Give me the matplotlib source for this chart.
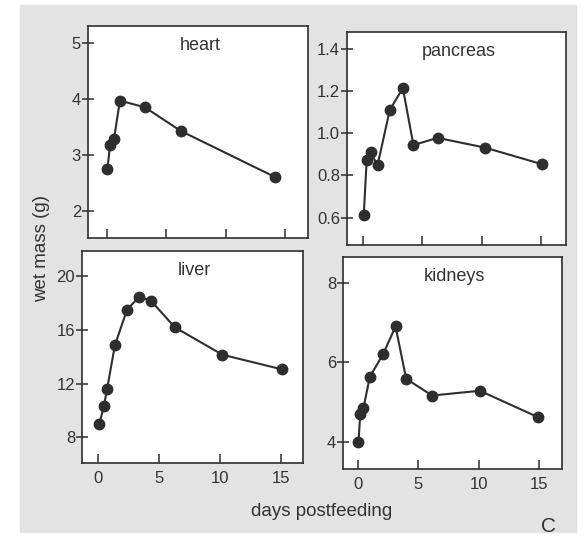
import matplotlib
matplotlib.use('Agg')
import matplotlib.pyplot as plt
from matplotlib.patches import Rectangle

plt.rcParams['font.family'] = ['Liberation Sans', 'DejaVu Sans']

# values
heart_days = [0.05, 0.28, 0.6, 1.1, 3.2, 6.2, 14.1]
heart_mass = [2.75, 3.18, 3.28, 3.97, 3.85, 3.43, 2.61]

pancreas_days = [0.08, 0.33, 0.66, 1.24, 2.27, 3.37, 4.26, 6.3, 10.26, 15.1]
pancreas_mass = [0.614, 0.875, 0.91, 0.848, 1.11, 1.214, 0.944, 0.978, 0.932, 0.853]

liver_days = [0.13, 0.49, 0.76, 1.39, 2.38, 3.39, 4.37, 6.3, 10.2, 15.1]
liver_mass = [9.0, 10.3, 11.6, 14.84, 17.5, 18.5, 18.16, 16.2, 14.15, 13.05]

kidney_days = [0.05, 0.2, 0.46, 0.99, 2.08, 3.12, 4.0, 6.14, 10.1, 14.9]
kidney_mass = [4.0, 4.71, 4.85, 5.64, 6.2, 6.9, 5.59, 5.17, 5.29, 4.63]

x_ticks = [0, 5, 10, 15]
heart_yticks = [2, 3, 4, 5]
pancreas_yticks = [0.6, 0.8, 1.0, 1.2, 1.4]
liver_yticks = [8, 12, 16, 20]
kidney_yticks = [4, 6, 8]

ink = '#2e2e2e'
txt = '#333333'

fig = plt.figure(figsize=(5.85, 5.39), dpi=100, facecolor='white')
# grey scanned page behind the panels
page = Rectangle((20/585, 1-532/539), 556/585, 527/539,
                 transform=fig.transFigure, color='#e3e3e3', zorder=-10)
fig.patches.append(page)

panels = [
    ('heart', heart_days, heart_mass, heart_yticks, '%g',
     [88/585, 1-238/539, 220/585, 212/539], (-1.58, 16.9), (1.52, 5.3), False),
    ('pancreas', pancreas_days, pancreas_mass, pancreas_yticks, '%.1f',
     [347/585, 1-245/539, 219/585, 213/539], (-1.33, 17.1), (0.47, 1.48), False),
    ('liver', liver_days, liver_mass, liver_yticks, '%g',
     [82/585, 1-463/539, 221/585, 212/539], (-1.3, 16.8), (6.06, 21.9), True),
    ('kidneys', kidney_days, kidney_mass, kidney_yticks, '%g',
     [343/585, 1-469/539, 219/585, 212/539], (-1.23, 16.9), (3.33, 8.64), True),
]

for name, days, mass, yt, fmt, pos, xl, yl, show_x in panels:
    ax = fig.add_axes(pos)
    ax.set_facecolor('white')
    ax.plot(days, mass, '-o', color=ink, lw=1.5, ms=7.5, mfc=ink, mec=ink)
    ax.set_xlim(*xl)
    ax.set_ylim(*yl)
    ax.set_xticks(x_ticks)
    ax.set_yticks(yt)
    ax.set_yticklabels([fmt % v for v in yt])
    if not show_x:
        ax.set_xticklabels([])
    ax.tick_params(axis='x', direction='in', length=6.5, width=1.1, color=ink,
                   labelsize=12, labelcolor=txt, pad=6)
    ax.tick_params(axis='y', direction='inout', length=9, width=1.1, color=ink,
                   labelsize=12, labelcolor=txt, pad=0.5)
    for s in ax.spines.values():
        s.set_color(ink)
        s.set_linewidth(1.2)
    ax.text(0.51, 0.91, name, transform=ax.transAxes, ha='center', va='center',
            fontsize=13, color=txt)

fig.text(42/585, 1-248/539, 'wet mass (g)', rotation=90, ha='center', va='center',
         fontsize=13.5, color=txt)
fig.text(322/585, 1-511/539, 'days postfeeding', ha='center', va='center',
         fontsize=13.5, color=txt)
fig.text(548/585, 1-526/539, 'C', ha='center', va='center', fontsize=15, color=txt)

fig.savefig('out.png', dpi=100)
